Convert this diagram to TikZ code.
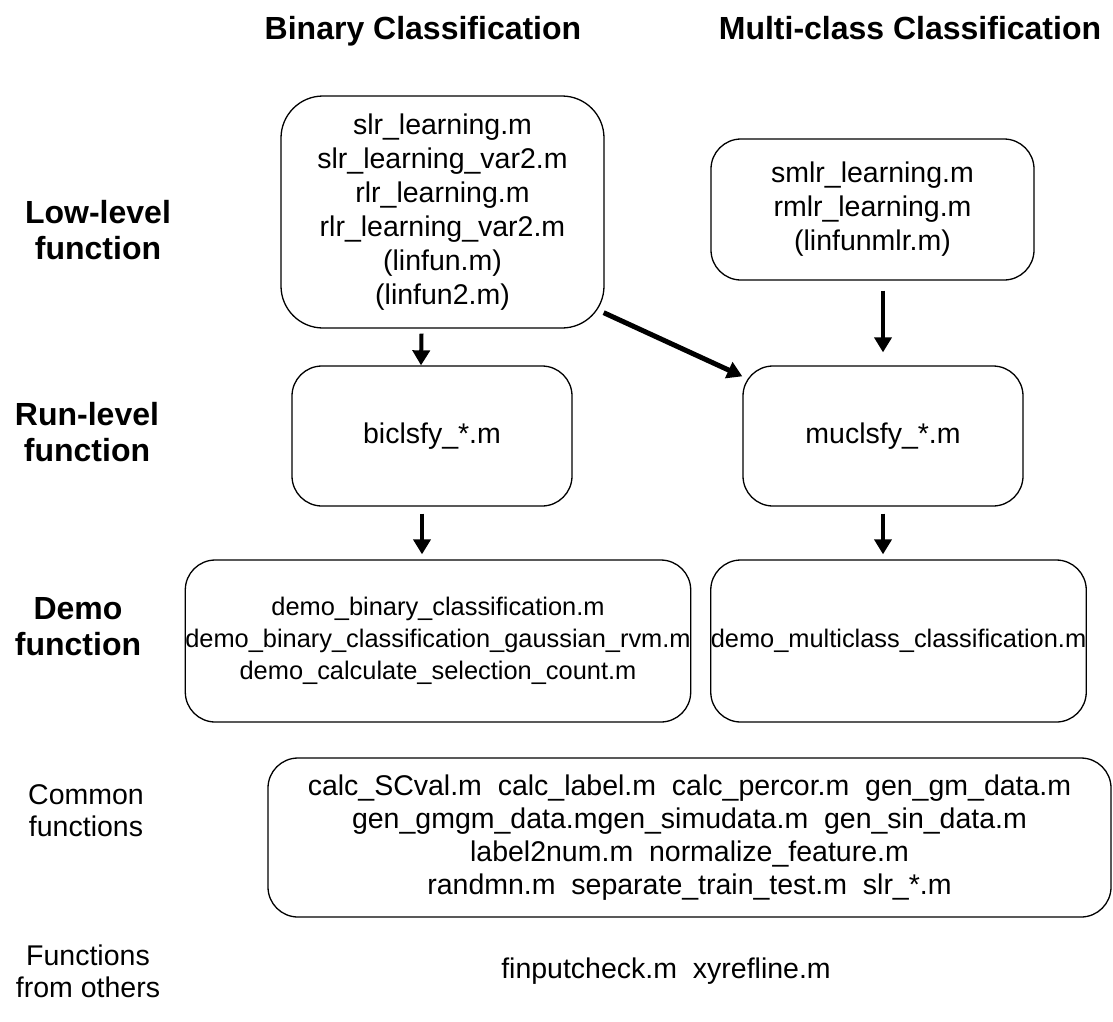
\documentclass[tikz,border=0pt]{standalone}
\usepackage{fontspec}
\setmainfont{Liberation Sans}
\usetikzlibrary{arrows.meta}

\begin{document}
\begin{tikzpicture}[x=1pt,y=-1pt,
        box/.style={draw, line width=1.3pt, rounded corners=30pt,
                        align=center, inner sep=0pt,
                        font=\fontsize{28.5}{34}\selectfont},
        arr/.style={line width=4pt,
                        -{Triangle[width=17pt,length=15pt]}},
        hd/.style={font=\fontsize{32}{36}\selectfont\bfseries, align=center},
        lb/.style={font=\fontsize{28.5}{32}\selectfont, align=center}]
    \useasboundingbox (0,0) rectangle (1113,1021);
    % column titles
    \node[hd, anchor=base] (tbin) at (423,39) {Binary Classification};
    \node[hd, anchor=base] (tmul) at (910,39) {Multi-class Classification};
    % row labels
    \node[hd] (llow) at (98,230) {Low-level\\function};
    \node[hd] (lrun) at (87,432) {Run-level\\function};
    \node[hd] (ldemo) at (78,627) {Demo\\function};
    \node[lb] (lcom) at (86,811) {Common\\functions};
    \node[lb] (loth) at (88,971) {Functions\\from others};
    % boxes
    \node[box, rounded corners=42pt, minimum width=323pt, minimum height=232pt]
        (low) at (442.5,212) {slr\_learning.m\\slr\_learning\_var2.m\\rlr\_learning.m\\
        rlr\_learning\_var2.m\\(linfun.m)\\(linfun2.m)};
    \node[box, minimum width=323pt, minimum height=141pt]
        (lowm) at (872.5,209.5) {smlr\_learning.m\\rmlr\_learning.m\\(linfunmlr.m)};
    \node[box, minimum width=280pt, minimum height=140pt]
        (run) at (432,436) {biclsfy\_*.m};
    \node[box, minimum width=280pt, minimum height=140pt]
        (runm) at (883,436) {muclsfy\_*.m};
    \node[box, minimum width=504pt, minimum height=162pt,
        font=\fontsize{25.4}{32}\selectfont]
        (demo) at (438,641) {demo\_binary\_classification.m\\
        demo\_binary\_classification\_gaussian\_rvm.m\\
        demo\_calculate\_selection\_count.m};
    \node[box, minimum width=375pt, minimum height=162pt,
        font=\fontsize{25.4}{32}\selectfont]
        (demom) at (898.5,641) {demo\_multiclass\_classification.m};
    \node[box, minimum width=843pt, minimum height=159pt,
        font=\fontsize{28.5}{33}\selectfont]
        (com) at (689.5,837.5) {calc\_SCval.m\ \ calc\_label.m\ \ calc\_percor.m\ \ gen\_gm\_data.m\\
        gen\_gmgm\_data.mgen\_simudata.m\ \ gen\_sin\_data.m\\
        label2num.m\ \ normalize\_feature.m\\
        randmn.m\ \ separate\_train\_test.m\ \ slr\_*.m};
    \node[lb] (oth) at (666,971) {finputcheck.m\ \ xyrefline.m};
    % arrows
    \draw[arr] ([xshift=-21pt,yshift=-5pt]low.south) -- ([xshift=-11pt]run.north);
    \draw[arr, line width=5pt] ([xshift=-1pt,yshift=16pt]low.south east)
        -- ([yshift=-11pt]runm.north west);
    \draw[arr] ([xshift=10.5pt,yshift=-10pt]lowm.south) -- ([yshift=13pt]runm.north);
    \draw[arr] ([xshift=-10pt,yshift=-7pt]run.south) -- ([xshift=-16pt,yshift=5pt]demo.north);
    \draw[arr] ([yshift=-7pt]runm.south) -- ([xshift=-15.5pt,yshift=5pt]demom.north);
\end{tikzpicture}
\end{document}
